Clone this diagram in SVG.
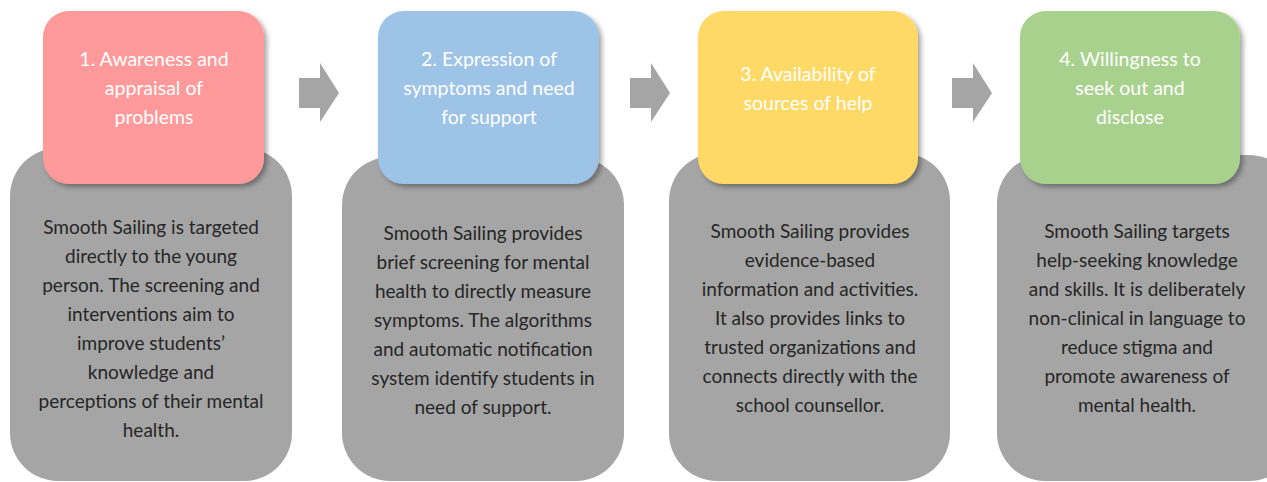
<svg xmlns="http://www.w3.org/2000/svg" width="1267" height="482" viewBox="0 0 1267 482">
<defs>
<style>
.grey{fill:#a5a5a5}
.title{font-family:Lato,"Liberation Sans",sans-serif;font-size:19.5px;fill:#ffffff;text-anchor:middle}
.body{font-family:Lato,"Liberation Sans",sans-serif;font-size:19px;fill:#262626;text-anchor:middle}
.arrow{fill:#a5a5a5}
</style>
<filter id="sh" x="-10%" y="-10%" width="125%" height="125%">
<feDropShadow dx="3" dy="3" stdDeviation="2.5" flood-color="#000" flood-opacity="0.35"/>
</filter>
</defs>
<rect width="1267" height="482" fill="#ffffff"/>
<g id="connectors">
<polygon class="arrow" points="299,78 320,78 320,63 339,93 320,122 320,108 299,108"/>
<polygon class="arrow" points="630,78 651,78 651,63 670,93 651,122 651,108 630,108"/>
<polygon class="arrow" points="952,78 973,78 973,63 992,93 973,122 973,108 952,108"/>
</g>
<g id="node1">
<rect class="grey" x="10" y="148" width="282" height="333" rx="48"/>
<rect x="43" y="11" width="221" height="173" rx="26" fill="#ff999a" filter="url(#sh)"/>
<text class="title"><tspan x="154" y="66">1. Awareness and</tspan><tspan x="154" y="95">appraisal of</tspan><tspan x="154" y="124">problems</tspan></text>
<text class="body"><tspan x="151" y="234">Smooth Sailing is targeted</tspan><tspan x="151" y="263">directly to the young</tspan><tspan x="151" y="292">person. The screening and</tspan><tspan x="151" y="321">interventions aim to</tspan><tspan x="151" y="350">improve students’</tspan><tspan x="151" y="379">knowledge and</tspan><tspan x="151" y="408">perceptions of their mental</tspan><tspan x="151" y="437">health.</tspan></text>
</g>
<g id="node2">
<rect class="grey" x="342" y="157" width="282" height="324" rx="48"/>
<rect x="378" y="11" width="221" height="173" rx="26" fill="#9dc3e6" filter="url(#sh)"/>
<text class="title"><tspan x="489" y="66">2. Expression of</tspan><tspan x="489" y="95">symptoms and need</tspan><tspan x="489" y="124">for support</tspan></text>
<text class="body"><tspan x="483" y="240">Smooth Sailing provides</tspan><tspan x="483" y="269">brief screening for mental</tspan><tspan x="483" y="298">health to directly measure</tspan><tspan x="483" y="327">symptoms. The algorithms</tspan><tspan x="483" y="356">and automatic notification</tspan><tspan x="483" y="385">system identify students in</tspan><tspan x="483" y="414">need of support.</tspan></text>
</g>
<g id="node3">
<rect class="grey" x="669" y="153" width="281" height="328" rx="48"/>
<rect x="698" y="11" width="220" height="173" rx="26" fill="#ffd966" filter="url(#sh)"/>
<text class="title"><tspan x="808" y="81">3. Availability of</tspan><tspan x="808" y="110">sources of help</tspan></text>
<text class="body"><tspan x="810" y="238">Smooth Sailing provides</tspan><tspan x="810" y="267">evidence-based</tspan><tspan x="810" y="296">information and activities.</tspan><tspan x="810" y="325">It also provides links to</tspan><tspan x="810" y="354">trusted organizations and</tspan><tspan x="810" y="383">connects directly with the</tspan><tspan x="810" y="412">school counsellor.</tspan></text>
</g>
<g id="node4">
<rect class="grey" x="997" y="155" width="300" height="326" rx="48"/>
<rect x="1020" y="11" width="220" height="173" rx="26" fill="#a9d18e" filter="url(#sh)"/>
<text class="title"><tspan x="1130" y="66">4. Willingness to</tspan><tspan x="1130" y="95">seek out and</tspan><tspan x="1130" y="124">disclose</tspan></text>
<text class="body"><tspan x="1137" y="238">Smooth Sailing targets</tspan><tspan x="1137" y="267">help-seeking knowledge</tspan><tspan x="1137" y="296">and skills. It is deliberately</tspan><tspan x="1137" y="325">non-clinical in language to</tspan><tspan x="1137" y="354">reduce stigma and</tspan><tspan x="1137" y="383">promote awareness of</tspan><tspan x="1137" y="412">mental health.</tspan></text>
</g>
</svg>
